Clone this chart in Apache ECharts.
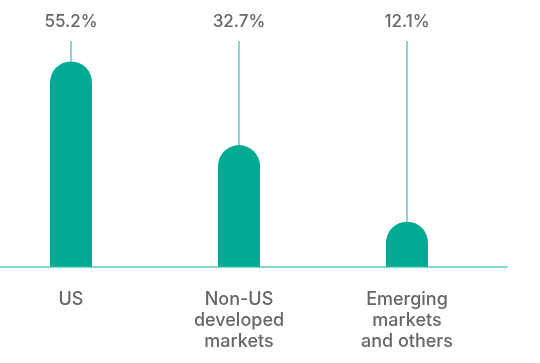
<!DOCTYPE html>
<html>
<head>
<meta charset="utf-8">
<script src="https://cdn.jsdelivr.net/npm/echarts@6/dist/echarts.min.js"></script>
<style>
html,body{margin:0;padding:0;background:#fff;}
#chart{width:540px;height:363px;}
</style>
</head>
<body>
<div id="chart"></div>
<script>
const categories = ['US', 'Non-US\ndeveloped\nmarkets', 'Emerging\nmarkets\nand others'];
const values = [55.2, 32.7, 12.1];
const yMax = 60.7;

const barColor = '#00AB93';
const lineColor = '#5FCBBB';
const textColor = '#666666';
const fontFamily = 'Inter, Roboto, sans-serif';

const chart = echarts.init(document.getElementById('chart'), null, {renderer: 'canvas'});
chart.setOption({
  animation: false,
  grid: [
    {left: -13, right: 49, top: 41, bottom: 96.3, containLabel: false, outerBoundsMode: 'none'},
    {left: 0, right: 33, top: 41, bottom: 96.3, containLabel: false, outerBoundsMode: 'none'}
  ],
  xAxis: [
    {
      type: 'category', gridIndex: 0, data: categories,
      axisLine: {show: false}, axisTick: {show: false},
      axisLabel: {
        margin: 22, color: textColor, fontFamily: fontFamily,
        fontSize: 18, lineHeight: 21, fontWeight: 500, interval: 0
      }
    },
    {
      type: 'category', gridIndex: 1, data: [''],
      axisLine: {show: true, lineStyle: {color: lineColor, width: 1.5}},
      axisTick: {show: false}, axisLabel: {show: false}
    }
  ],
  yAxis: [
    {type: 'value', gridIndex: 0, min: 0, max: yMax, show: false, splitLine: {show: false}},
    {type: 'value', gridIndex: 1, min: 0, max: 1, show: false, splitLine: {show: false}}
  ],
  series: [
    {
      type: 'custom', xAxisIndex: 0, yAxisIndex: 0, z: 1,
      data: values.map((v, i) => [i, v]),
      renderItem: function (params, api) {
        const top = api.coord([api.value(0), yMax]);
        const bar = api.coord([api.value(0), api.value(1)]);
        return {
          type: 'group',
          children: [
            {type: 'line', shape: {x1: bar[0], y1: bar[1], x2: top[0], y2: top[1]},
             style: {stroke: lineColor, lineWidth: 1.5}},
            {type: 'text', x: top[0], y: top[1] - 19.5,
             style: {text: api.value(1).toFixed(1) + '%', align: 'center', verticalAlign: 'middle',
                     fill: textColor, font: '500 17px ' + fontFamily}}
          ]
        };
      }
    },
    {
      type: 'bar', xAxisIndex: 0, yAxisIndex: 0, z: 2,
      data: values, barWidth: 42,
      itemStyle: {color: barColor, borderRadius: [21, 21, 0, 0]}
    }
  ]
});
</script>
</body>
</html>
